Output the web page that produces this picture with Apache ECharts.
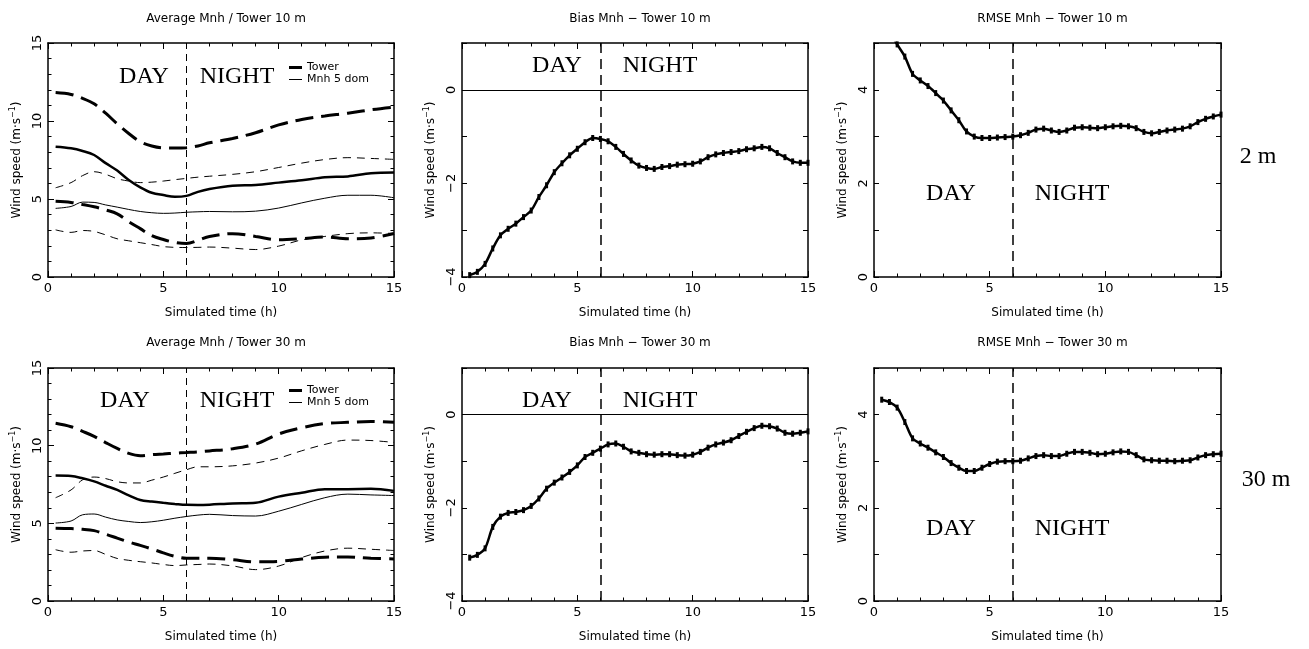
<!DOCTYPE html>
<html><head><meta charset="utf-8">
<script src="https://cdn.jsdelivr.net/npm/echarts@6/dist/echarts.min.js"></script>
<style>html,body{margin:0;padding:0;background:#fff}#c{width:1309px;height:649px}</style>
</head><body><div id="c"></div>
<script>
// ---------- DATA ----------
const avgHours = [0.33,1,1.5,2,2.5,3,3.5,4,4.5,5,5.5,6,6.5,7,8,9,10,11,12,13,14,15];
const tower10Mean = [8.35,8.25,8.08,7.82,7.3,6.82,6.22,5.75,5.4,5.25,5.14,5.2,5.46,5.64,5.85,5.9,6.05,6.2,6.4,6.45,6.65,6.7];
const tower10Up   = [11.82,11.7,11.45,11.1,10.5,9.82,9.2,8.67,8.4,8.28,8.27,8.29,8.4,8.6,8.88,9.25,9.75,10.1,10.32,10.5,10.72,10.89];
const tower10Low  = [4.85,4.78,4.65,4.5,4.3,4.05,3.55,3.1,2.65,2.4,2.22,2.15,2.35,2.6,2.78,2.6,2.38,2.45,2.57,2.45,2.5,2.79];
const mnh10Mean   = [4.4,4.52,4.8,4.78,4.62,4.48,4.33,4.2,4.12,4.08,4.1,4.15,4.18,4.2,4.18,4.22,4.42,4.75,5.05,5.24,5.24,5.08];
const mnh10Up     = [5.72,6.05,6.5,6.75,6.58,6.3,6.15,6.05,6.08,6.15,6.24,6.32,6.4,6.46,6.58,6.75,7.02,7.3,7.53,7.65,7.6,7.54];
const mnh10Low    = [3.02,2.86,2.98,2.92,2.7,2.45,2.32,2.2,2.08,1.95,1.9,1.89,1.9,1.92,1.85,1.76,1.98,2.38,2.6,2.78,2.83,2.79];
const tower30Mean = [8.08,8.05,7.9,7.7,7.42,7.15,6.8,6.5,6.4,6.32,6.25,6.19,6.18,6.2,6.28,6.32,6.72,6.97,7.2,7.2,7.22,7.09];
const tower30Up   = [11.44,11.22,10.92,10.6,10.2,9.82,9.5,9.35,9.42,9.47,9.52,9.56,9.6,9.66,9.8,10.1,10.75,11.15,11.42,11.5,11.56,11.5];
const tower30Low  = [4.69,4.66,4.62,4.53,4.3,4.05,3.8,3.58,3.35,3.1,2.88,2.75,2.75,2.76,2.66,2.52,2.55,2.7,2.82,2.84,2.75,2.71];
const mnh30Mean   = [5.02,5.15,5.55,5.6,5.4,5.22,5.12,5.05,5.1,5.2,5.33,5.44,5.53,5.58,5.5,5.47,5.78,6.22,6.65,6.88,6.83,6.79];
const mnh30Up     = [6.65,7.15,7.8,7.98,7.88,7.68,7.6,7.6,7.78,7.98,8.22,8.45,8.64,8.64,8.7,8.88,9.2,9.67,10.08,10.36,10.33,10.21];
const mnh30Low    = [3.3,3.14,3.22,3.25,3.0,2.74,2.62,2.53,2.45,2.35,2.28,2.32,2.35,2.38,2.26,2.02,2.25,2.8,3.22,3.4,3.33,3.25];

// statistics every 20 minutes (k/3 h, k = 1..45)
const statHours = Array.from({length:45}, (_, i) => (i + 1) / 3);
const bias10 = [-3.96,-3.89,-3.72,-3.39,-3.11,-2.97,-2.86,-2.72,-2.58,-2.29,-2.04,-1.76,-1.57,-1.40,-1.26,-1.12,-1.03,-1.05,-1.10,-1.22,-1.37,-1.51,-1.62,-1.67,-1.69,-1.65,-1.63,-1.60,-1.59,-1.58,-1.53,-1.44,-1.38,-1.35,-1.33,-1.31,-1.27,-1.25,-1.22,-1.25,-1.35,-1.44,-1.53,-1.56,-1.56];
const bias30 = [-3.07,-3.01,-2.87,-2.41,-2.19,-2.11,-2.09,-2.05,-1.96,-1.80,-1.59,-1.46,-1.35,-1.23,-1.09,-0.91,-0.82,-0.73,-0.64,-0.62,-0.69,-0.79,-0.82,-0.85,-0.86,-0.85,-0.85,-0.87,-0.88,-0.86,-0.80,-0.71,-0.64,-0.60,-0.55,-0.46,-0.37,-0.29,-0.24,-0.25,-0.30,-0.39,-0.41,-0.39,-0.36];
const rmse10 = [5.55,5.25,4.97,4.71,4.34,4.20,4.08,3.93,3.77,3.56,3.35,3.11,3.00,2.97,2.97,2.98,2.99,3.00,3.03,3.08,3.15,3.17,3.13,3.10,3.13,3.19,3.20,3.19,3.18,3.20,3.22,3.23,3.22,3.18,3.10,3.07,3.10,3.13,3.15,3.17,3.22,3.31,3.38,3.43,3.47];
const rmse30 = [4.32,4.27,4.15,3.84,3.49,3.38,3.29,3.19,3.09,2.96,2.86,2.79,2.79,2.86,2.94,2.99,3.00,3.00,3.01,3.06,3.11,3.13,3.11,3.11,3.16,3.20,3.20,3.18,3.15,3.16,3.19,3.21,3.20,3.13,3.04,3.02,3.01,3.01,3.00,3.01,3.02,3.08,3.13,3.15,3.16];

const panelTitles = ['Average Mnh / Tower 10 m','Bias Mnh \u2212 Tower 10 m','RMSE Mnh \u2212 Tower 10 m',
                     'Average Mnh / Tower 30 m','Bias Mnh \u2212 Tower 30 m','RMSE Mnh \u2212 Tower 30 m'];
const xName = 'Simulated time (h)';
const yName = 'Wind speed (m\u00b7s{sup|\u22121})';
const legendNames = ['Tower', 'Mnh 5 dom'];
const dayNight = ['DAY', 'NIGHT'];
const levelLabels = ['2 m', '30 m'];
const transitionHour = 6;

// ---------- LAYOUT ----------
const SANS = 'DejaVu Sans';
const SERIF = 'Liberation Serif';
const grids = [
  {left:48, top:43, width:346, height:234},
  {left:462, top:43, width:346, height:234},
  {left:874, top:43, width:347, height:234},
  {left:48, top:368, width:346, height:233},
  {left:462, top:368, width:346, height:233},
  {left:874, top:368, width:347, height:233}
];
const yRanges = [[0,15],[-4,1],[0,5],[0,15],[-4,1],[0,5]];

const fmtNum = v => String(v).replace('-', '\u2212');

const xAxes = [], yAxes = [];
grids.forEach((g, i) => {
  const common = {
    gridIndex:i, type:'value', min:0, max:15, interval:5,
    axisLine:{show:true, onZero:false, lineStyle:{color:'#000', width:1.5}},
    axisTick:{show:true, inside:true, length:6, lineStyle:{color:'#000', width:1}},
    minorTick:{show:true, splitNumber:5, length:3.5, lineStyle:{color:'#000', width:1}},
    splitLine:{show:false}, minorSplitLine:{show:false}
  };
  xAxes.push(Object.assign({}, common, {
    position:'bottom',
    name:xName, nameLocation:'middle', nameGap:30,
    nameTextStyle:{fontFamily:SANS, fontSize:12, color:'#000'},
    axisLabel:{show:true, margin:5, fontFamily:SANS, fontSize:13, color:'#000'}
  }));
  xAxes.push(Object.assign({}, common, {position:'top', axisLabel:{show:false}}));

  const r = yRanges[i];
  const big = (r[1] - r[0]) === 15;
  const ycommon = {
    gridIndex:i, type:'value', min:r[0], max:r[1], interval: big ? 5 : 1,
    axisLine:{show:true, onZero:false, lineStyle:{color:'#000', width:1.5}},
    axisTick:{show:true, inside:true, length: big ? 6 : 5, lineStyle:{color:'#000', width:1}},
    minorTick:{show: big, splitNumber:5, length:3.5, lineStyle:{color:'#000', width:1}},
    splitLine:{show:false}, minorSplitLine:{show:false}
  };
  yAxes.push(Object.assign({}, ycommon, {
    position:'left',
    name:yName, nameLocation:'middle', nameGap:24, nameRotate:90,
    nameTextStyle:{fontFamily:SANS, fontSize:12, color:'#000',
      rich:{sup:{fontFamily:SANS, fontSize:8, color:'#000', verticalAlign:'top', padding:[0,0,7,0]}}},
    axisLabel:{show:true, rotate:90, margin:4, fontFamily:SANS, fontSize:13, color:'#000',
      formatter: v => big ? fmtNum(v) : (v % 2 === 0 ? fmtNum(v) : '')}
  }));
  yAxes.push(Object.assign({}, ycommon, {position:'right', axisLabel:{show:false}}));
});

const zip = (xs, ys) => xs.map((x, k) => [x, ys[k]]);
const series = [];
const vLine = (w, dash) => ({xAxis:transitionHour, lineStyle:{color:'#000', width:w, type:dash}});

function avgPanel(p, tm, tu, tl, mm, mu, ml) {
  const ax = {xAxisIndex:2*p, yAxisIndex:2*p, type:'line', symbol:'none', smooth:0.35, animation:false, silent:true,
              itemStyle:{color:'#000'}};
  series.push(Object.assign({}, ax, {name:legendNames[0], data:zip(avgHours, tm),
    lineStyle:{color:'#000', width:2.5},
    markLine:{silent:true, symbol:'none', label:{show:false}, animation:false, data:[vLine(1, [7,5])]}}));
  series.push(Object.assign({}, ax, {name:'tower+', data:zip(avgHours, tu), lineStyle:{color:'#000', width:3, type:[18,8]}}));
  series.push(Object.assign({}, ax, {name:'tower-', data:zip(avgHours, tl), lineStyle:{color:'#000', width:3, type:[18,8]}}));
  series.push(Object.assign({}, ax, {name:legendNames[1], data:zip(avgHours, mm), lineStyle:{color:'#000', width:1}}));
  series.push(Object.assign({}, ax, {name:'mnh+', data:zip(avgHours, mu), lineStyle:{color:'#000', width:1, type:[8,6]}}));
  series.push(Object.assign({}, ax, {name:'mnh-', data:zip(avgHours, ml), lineStyle:{color:'#000', width:1, type:[8,6]}}));
}
function statPanel(p, vals, zeroLine) {
  const ml = [vLine(1.5, [10,6])];
  if (zeroLine) ml.push({yAxis:0, lineStyle:{color:'#000', width:1.2, type:'solid'}});
  series.push({xAxisIndex:2*p, yAxisIndex:2*p, type:'line', name:'stat'+p, animation:false, silent:true,
    data:zip(statHours, vals), smooth:0.3, symbol:'rect', symbolSize:[3,6], showSymbol:true,
    itemStyle:{color:'#000'}, lineStyle:{color:'#000', width:2.5}, clip:true,
    markLine:{silent:true, symbol:'none', label:{show:false}, animation:false, data:ml}});
}
avgPanel(0, tower10Mean, tower10Up, tower10Low, mnh10Mean, mnh10Up, mnh10Low);
statPanel(1, bias10, true);
statPanel(2, rmse10, false);
avgPanel(3, tower30Mean, tower30Up, tower30Low, mnh30Mean, mnh30Up, mnh30Low);
statPanel(4, bias30, true);
statPanel(5, rmse30, false);

const titles = grids.map((g, i) => ({
  text: panelTitles[i], left: g.left + g.width / 2, top: i < 3 ? 8 : 332, textAlign:'center',
  textStyle:{fontFamily:SANS, fontSize:12, fontWeight:'normal', color:'#000'}
}));

const legends = [62, 385].map(t => ({
  data: [
    {name: legendNames[0], icon:'path://M0,0H13V3H0Z', itemStyle:{color:'#000', borderWidth:0}},
    {name: legendNames[1], icon:'path://M0,0H13V1H0Z', itemStyle:{color:'#000', borderWidth:0}}
  ],
  orient:'vertical', left:289, top:t, itemWidth:13, itemHeight:10, itemGap:1, symbolKeepAspect:true,
  selectedMode:false, padding:0,
  textStyle:{fontFamily:SANS, fontSize:11, color:'#000'}
}));

const textAt = (str, x, y) => ({type:'text', x, y, silent:true,
  style:{text:str, font:'24px "' + SERIF + '"', fill:'#000', textAlign:'center', textVerticalAlign:'middle', verticalAlign:'middle'}});
const labelPos = [
  [[144,77],[237,77]], [[557,66],[660,66]], [[951,194],[1072,194]],
  [[125,401],[237,401]], [[547,401],[660,401]], [[951,529],[1072,529]]
];
const graphics = [];
labelPos.forEach(pp => { graphics.push(textAt(dayNight[0], pp[0][0], pp[0][1])); graphics.push(textAt(dayNight[1], pp[1][0], pp[1][1])); });
graphics.push(textAt(levelLabels[0], 1258, 157));
graphics.push(textAt(levelLabels[1], 1266, 480));

const chart = echarts.init(document.getElementById('c'), null, {renderer:'canvas'});
chart.setOption({
  backgroundColor:'#fff', animation:false,
  title: titles, legend: legends,
  grid: grids.map(g => Object.assign({show:false, containLabel:false}, g)),
  xAxis: xAxes, yAxis: yAxes, series, graphic: graphics
});
</script></body></html>
